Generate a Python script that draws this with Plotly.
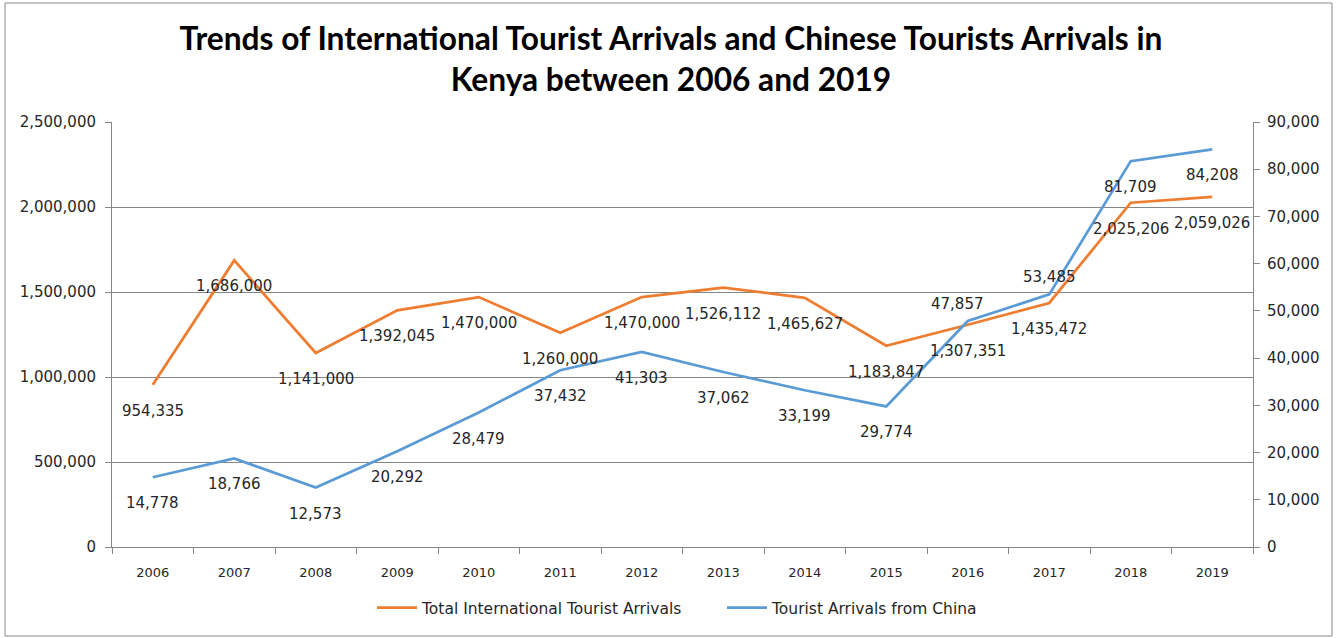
import plotly.graph_objects as go

years = ["2006", "2007", "2008", "2009", "2010", "2011", "2012", "2013",
         "2014", "2015", "2016", "2017", "2018", "2019"]
total_arrivals = [954335, 1686000, 1141000, 1392045, 1470000, 1260000, 1470000,
                  1526112, 1465627, 1183847, 1307351, 1435472, 2025206, 2059026]
china_arrivals = [14778, 18766, 12573, 20292, 28479, 37432, 41303, 37062,
                  33199, 29774, 47857, 53485, 81709, 84208]

ORANGE = "#ED7D31"
BLUE = "#5B9BD5"
GRID = "#868686"
TXT = "#262626"
W, H = 1342, 638
L, R, T, B = 112, 89, 122, 91

fig = go.Figure()
fig.add_trace(go.Scatter(x=years, y=total_arrivals, mode="lines",
                         name="Total International Tourist Arrivals",
                         line=dict(color=ORANGE, width=2.75), yaxis="y"))
fig.add_trace(go.Scatter(x=years, y=china_arrivals, mode="lines",
                         name="Tourist Arrivals from China",
                         line=dict(color=BLUE, width=2.75), yaxis="y2"))

label_font = dict(family="DejaVu Sans", size=15, color=TXT)
annotations = []
for i, v in enumerate(total_arrivals):
    annotations.append(dict(x=i, y=v, xref="x", yref="y", text=f"{v:,}",
                            showarrow=False, yshift=-26, font=label_font))
for i, (yr, v) in enumerate(zip(years, china_arrivals)):
    above = yr in ("2016", "2017")
    annotations.append(dict(x=i, y=v, xref="x", yref="y2", text=f"{v:,}",
                            showarrow=False, yshift=17 if above else -26,
                            xshift=-10 if yr == "2016" else 0,
                            font=label_font))

pw = W - L - R
ph = H - T - B
shapes = [dict(type="rect", xref="paper", yref="paper",
               x0=(5 - L) / pw, x1=(1332 - L) / pw,
               y0=(H - B - 636) / ph, y1=(H - B - 3) / ph,
               line=dict(color="#8a8a8a", width=1), fillcolor="rgba(0,0,0,0)",
               layer="below")]

fig.update_layout(
    width=W, height=H,
    margin=dict(l=L, r=R, t=T, b=B),
    paper_bgcolor="white", plot_bgcolor="white",
    title=dict(text="Trends of International Tourist Arrivals and Chinese Tourists Arrivals in<br>Kenya between 2006 and 2019",
               x=0.5, xref="container", xanchor="center",
               y=1 - 50 / H, yref="container", yanchor="middle",
               font=dict(family="Lato", size=31.7, color="black", weight="bold")),
    xaxis=dict(type="category", range=[-0.5, 13.5], showgrid=False,
               showline=True, linecolor=GRID, linewidth=1,
               ticks="outside", tickson="boundaries", ticklen=6, tickcolor=GRID,
               ticklabelstandoff=13,
               tickfont=dict(family="DejaVu Sans", size=13, color=TXT)),
    yaxis=dict(range=[0, 2500000], dtick=500000, tickformat=",",
               showgrid=True, gridcolor=GRID, gridwidth=1,
               showline=True, linecolor=GRID, linewidth=1,
               ticks="outside", ticklen=6, tickcolor=GRID, zeroline=False,
               ticklabelstandoff=6,
               tickfont=dict(family="DejaVu Sans", size=15, color=TXT)),
    yaxis2=dict(range=[0, 90000], dtick=10000, tickformat=",", overlaying="y",
                side="right", showgrid=False,
                showline=True, linecolor=GRID, linewidth=1,
                ticks="outside", ticklen=6, tickcolor=GRID, zeroline=False,
                ticklabelstandoff=4,
                tickfont=dict(family="DejaVu Sans", size=15, color=TXT)),
    legend=dict(orientation="h", x=(372 - L) / pw, xanchor="left",
                y=(H - B - 608) / ph, yanchor="middle",
                font=dict(family="DejaVu Sans", size=15.5, color=TXT),
                itemwidth=40, entrywidth=295, entrywidthmode="pixels"),
    annotations=annotations,
    shapes=shapes,
    showlegend=True,
)

fig.write_html("out.html", config={"displayModeBar": False},
               post_script="document.body.style.margin='0px';")
